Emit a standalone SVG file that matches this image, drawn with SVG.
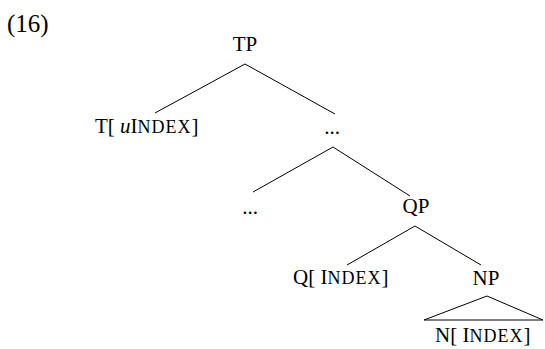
<svg xmlns="http://www.w3.org/2000/svg" width="545" height="349" viewBox="0 0 545 349">
<style>
text{font-family:"Liberation Serif","Times New Roman",serif;font-size:21px;fill:#000}
.sc{font-size:18px;letter-spacing:1px}
.it{font-style:italic}
.num{font-size:25px}
line,polyline{stroke:#000;stroke-width:1;fill:none}
</style>
<rect width="545" height="349" fill="#fff"/>
<text class="num" x="7" y="32">(16)</text>
<g id="connectors">
<line x1="245" y1="64" x2="155" y2="113"/>
<line x1="245" y1="64" x2="335" y2="114"/>
<line x1="333" y1="147" x2="253" y2="192"/>
<line x1="333" y1="147" x2="410" y2="196"/>
<line x1="415" y1="226" x2="347" y2="265"/>
<line x1="415" y1="226" x2="481" y2="265"/>
<polyline points="424,320 487,296 543,320 424,320"/>
</g>
<g id="TP"><text x="245" y="51" text-anchor="middle">TP</text></g>
<g id="T"><text x="95" y="133">T[ <tspan class="it">u</tspan>I<tspan class="sc">NDEX</tspan>]</text></g>
<g id="dots1"><text x="332" y="134" text-anchor="middle">...</text></g>
<g id="dots2"><text x="250" y="214" text-anchor="middle">...</text></g>
<g id="QP"><text x="416" y="213" text-anchor="middle">QP</text></g>
<g id="Q"><text x="293" y="284">Q[ I<tspan class="sc">NDEX</tspan>]</text></g>
<g id="NP"><text x="486" y="285" text-anchor="middle">NP</text></g>
<g id="N"><text x="435" y="342">N[ I<tspan class="sc">NDEX</tspan>]</text></g>
</svg>
